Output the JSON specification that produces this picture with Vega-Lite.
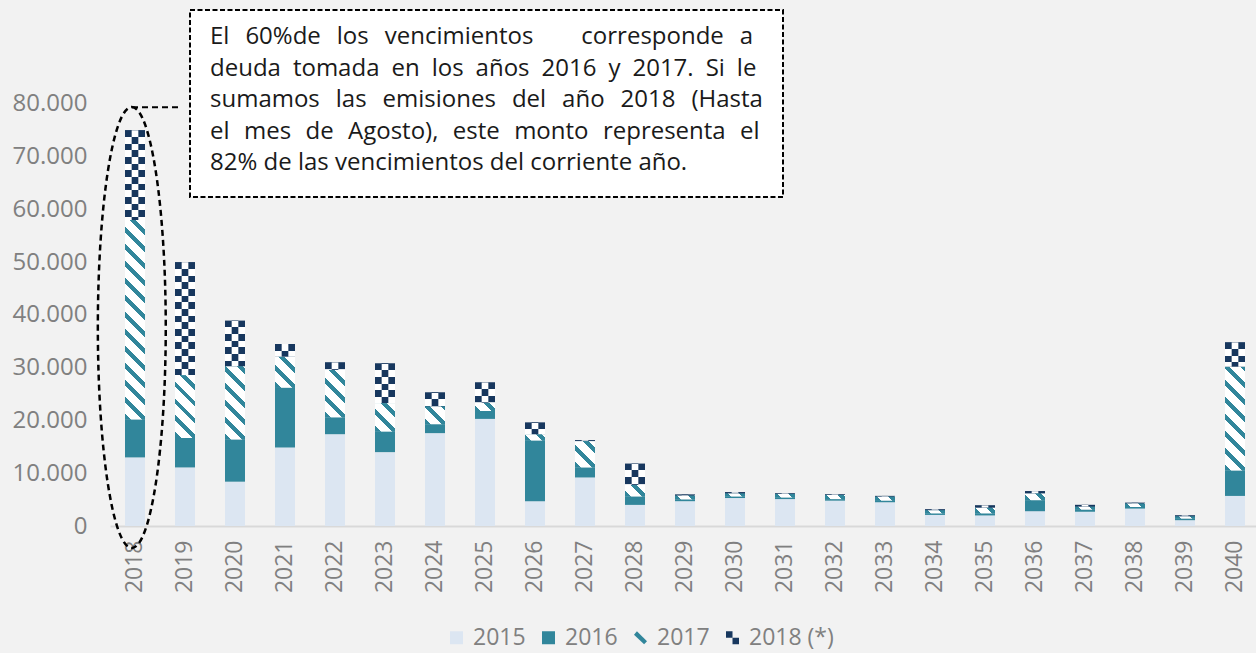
{
  "$schema": "https://vega.github.io/schema/vega-lite/v6.json",
  "width": 1146,
  "height": 526,
  "autosize": "none",
  "padding": {"left": 110, "top": 0, "right": 0, "bottom": 127},
  "background": "#f2f2f2",
  "config": {"view": {"stroke": null}, "font": "Open Sans"},
  "params": [
    {"name": "stripeStops", "value": [
      {"offset":0,"color":"#31869b"},{"offset":0.0175,"color":"#31869b"},{"offset":0.0175,"color":"#fff"},{"offset":0.05,"color":"#fff"},
      {"offset":0.05,"color":"#31869b"},{"offset":0.0675,"color":"#31869b"},{"offset":0.0675,"color":"#fff"},{"offset":0.1,"color":"#fff"},
      {"offset":0.1,"color":"#31869b"},{"offset":0.1175,"color":"#31869b"},{"offset":0.1175,"color":"#fff"},{"offset":0.15,"color":"#fff"},
      {"offset":0.15,"color":"#31869b"},{"offset":0.1675,"color":"#31869b"},{"offset":0.1675,"color":"#fff"},{"offset":0.2,"color":"#fff"},
      {"offset":0.2,"color":"#31869b"},{"offset":0.2175,"color":"#31869b"},{"offset":0.2175,"color":"#fff"},{"offset":0.25,"color":"#fff"},
      {"offset":0.25,"color":"#31869b"},{"offset":0.2675,"color":"#31869b"},{"offset":0.2675,"color":"#fff"},{"offset":0.3,"color":"#fff"},
      {"offset":0.3,"color":"#31869b"},{"offset":0.3175,"color":"#31869b"},{"offset":0.3175,"color":"#fff"},{"offset":0.35,"color":"#fff"},
      {"offset":0.35,"color":"#31869b"},{"offset":0.3675,"color":"#31869b"},{"offset":0.3675,"color":"#fff"},{"offset":0.4,"color":"#fff"},
      {"offset":0.4,"color":"#31869b"},{"offset":0.4175,"color":"#31869b"},{"offset":0.4175,"color":"#fff"},{"offset":0.45,"color":"#fff"},
      {"offset":0.45,"color":"#31869b"},{"offset":0.4675,"color":"#31869b"},{"offset":0.4675,"color":"#fff"},{"offset":0.5,"color":"#fff"},
      {"offset":0.5,"color":"#31869b"},{"offset":0.5175,"color":"#31869b"},{"offset":0.5175,"color":"#fff"},{"offset":0.55,"color":"#fff"},
      {"offset":0.55,"color":"#31869b"},{"offset":0.5675,"color":"#31869b"},{"offset":0.5675,"color":"#fff"},{"offset":0.6,"color":"#fff"},
      {"offset":0.6,"color":"#31869b"},{"offset":0.6175,"color":"#31869b"},{"offset":0.6175,"color":"#fff"},{"offset":0.65,"color":"#fff"},
      {"offset":0.65,"color":"#31869b"},{"offset":0.6675,"color":"#31869b"},{"offset":0.6675,"color":"#fff"},{"offset":0.7,"color":"#fff"},
      {"offset":0.7,"color":"#31869b"},{"offset":0.7175,"color":"#31869b"},{"offset":0.7175,"color":"#fff"},{"offset":0.75,"color":"#fff"},
      {"offset":0.75,"color":"#31869b"},{"offset":0.7675,"color":"#31869b"},{"offset":0.7675,"color":"#fff"},{"offset":0.8,"color":"#fff"},
      {"offset":0.8,"color":"#31869b"},{"offset":0.8175,"color":"#31869b"},{"offset":0.8175,"color":"#fff"},{"offset":0.85,"color":"#fff"},
      {"offset":0.85,"color":"#31869b"},{"offset":0.8675,"color":"#31869b"},{"offset":0.8675,"color":"#fff"},{"offset":0.9,"color":"#fff"},
      {"offset":0.9,"color":"#31869b"},{"offset":0.9175,"color":"#31869b"},{"offset":0.9175,"color":"#fff"},{"offset":0.95,"color":"#fff"},
      {"offset":0.95,"color":"#31869b"},{"offset":0.9675,"color":"#31869b"},{"offset":0.9675,"color":"#fff"},{"offset":1,"color":"#fff"}
    ]},
    {"name": "checkerStops", "value": [
      {"offset":0,"color":"#17375e"},{"offset":0.04167,"color":"#17375e"},{"offset":0.04167,"color":"#fff"},{"offset":0.08333,"color":"#fff"},
      {"offset":0.08333,"color":"#17375e"},{"offset":0.125,"color":"#17375e"},{"offset":0.125,"color":"#fff"},{"offset":0.16667,"color":"#fff"},
      {"offset":0.16667,"color":"#17375e"},{"offset":0.20833,"color":"#17375e"},{"offset":0.20833,"color":"#fff"},{"offset":0.25,"color":"#fff"},
      {"offset":0.25,"color":"#17375e"},{"offset":0.29167,"color":"#17375e"},{"offset":0.29167,"color":"#fff"},{"offset":0.33333,"color":"#fff"},
      {"offset":0.33333,"color":"#17375e"},{"offset":0.375,"color":"#17375e"},{"offset":0.375,"color":"#fff"},{"offset":0.41667,"color":"#fff"},
      {"offset":0.41667,"color":"#17375e"},{"offset":0.45833,"color":"#17375e"},{"offset":0.45833,"color":"#fff"},{"offset":0.5,"color":"#fff"},
      {"offset":0.5,"color":"#17375e"},{"offset":0.54167,"color":"#17375e"},{"offset":0.54167,"color":"#fff"},{"offset":0.58333,"color":"#fff"},
      {"offset":0.58333,"color":"#17375e"},{"offset":0.625,"color":"#17375e"},{"offset":0.625,"color":"#fff"},{"offset":0.66667,"color":"#fff"},
      {"offset":0.66667,"color":"#17375e"},{"offset":0.70833,"color":"#17375e"},{"offset":0.70833,"color":"#fff"},{"offset":0.75,"color":"#fff"},
      {"offset":0.75,"color":"#17375e"},{"offset":0.79167,"color":"#17375e"},{"offset":0.79167,"color":"#fff"},{"offset":0.83333,"color":"#fff"},
      {"offset":0.83333,"color":"#17375e"},{"offset":0.875,"color":"#17375e"},{"offset":0.875,"color":"#fff"},{"offset":0.91667,"color":"#fff"},
      {"offset":0.91667,"color":"#17375e"},{"offset":0.95833,"color":"#17375e"},{"offset":0.95833,"color":"#fff"},{"offset":1,"color":"#fff"}
    ]}
  ],
  "layer": [
    {
      "data": {"values": [
        {"anio":"2018","serie":"2015","v":13000},{"anio":"2018","serie":"2016","v":7200},{"anio":"2018","serie":"2017","v":37800},{"anio":"2018","serie":"2018 (*)","v":17000},
        {"anio":"2019","serie":"2015","v":11100},{"anio":"2019","serie":"2016","v":5600},{"anio":"2019","serie":"2017","v":11900},{"anio":"2019","serie":"2018 (*)","v":21400},
        {"anio":"2020","serie":"2015","v":8400},{"anio":"2020","serie":"2016","v":8000},{"anio":"2020","serie":"2017","v":13900},{"anio":"2020","serie":"2018 (*)","v":8600},
        {"anio":"2021","serie":"2015","v":14900},{"anio":"2021","serie":"2016","v":11300},{"anio":"2021","serie":"2017","v":5900},{"anio":"2021","serie":"2018 (*)","v":2400},
        {"anio":"2022","serie":"2015","v":17400},{"anio":"2022","serie":"2016","v":3200},{"anio":"2022","serie":"2017","v":9000},{"anio":"2022","serie":"2018 (*)","v":1400},
        {"anio":"2023","serie":"2015","v":14000},{"anio":"2023","serie":"2016","v":3900},{"anio":"2023","serie":"2017","v":5400},{"anio":"2023","serie":"2018 (*)","v":7500},
        {"anio":"2024","serie":"2015","v":17600},{"anio":"2024","serie":"2016","v":1700},{"anio":"2024","serie":"2017","v":3400},{"anio":"2024","serie":"2018 (*)","v":2600},
        {"anio":"2025","serie":"2015","v":20300},{"anio":"2025","serie":"2016","v":1500},{"anio":"2025","serie":"2017","v":1600},{"anio":"2025","serie":"2018 (*)","v":3800},
        {"anio":"2026","serie":"2015","v":4700},{"anio":"2026","serie":"2016","v":11500},{"anio":"2026","serie":"2017","v":1200},{"anio":"2026","serie":"2018 (*)","v":2200},
        {"anio":"2027","serie":"2015","v":9200},{"anio":"2027","serie":"2016","v":1900},{"anio":"2027","serie":"2017","v":5000},{"anio":"2027","serie":"2018 (*)","v":150},
        {"anio":"2028","serie":"2015","v":4000},{"anio":"2028","serie":"2016","v":1600},{"anio":"2028","serie":"2017","v":2200},{"anio":"2028","serie":"2018 (*)","v":4000},
        {"anio":"2029","serie":"2015","v":4700},{"anio":"2029","serie":"2016","v":350},{"anio":"2029","serie":"2017","v":750},{"anio":"2029","serie":"2018 (*)","v":150},
        {"anio":"2030","serie":"2015","v":5300},{"anio":"2030","serie":"2016","v":300},{"anio":"2030","serie":"2017","v":600},{"anio":"2030","serie":"2018 (*)","v":200},
        {"anio":"2031","serie":"2015","v":5100},{"anio":"2031","serie":"2016","v":300},{"anio":"2031","serie":"2017","v":700},{"anio":"2031","serie":"2018 (*)","v":100},
        {"anio":"2032","serie":"2015","v":4800},{"anio":"2032","serie":"2016","v":300},{"anio":"2032","serie":"2017","v":800},{"anio":"2032","serie":"2018 (*)","v":100},
        {"anio":"2033","serie":"2015","v":4500},{"anio":"2033","serie":"2016","v":300},{"anio":"2033","serie":"2017","v":800},{"anio":"2033","serie":"2018 (*)","v":100},
        {"anio":"2034","serie":"2015","v":2100},{"anio":"2034","serie":"2016","v":300},{"anio":"2034","serie":"2017","v":600},{"anio":"2034","serie":"2018 (*)","v":150},
        {"anio":"2035","serie":"2015","v":2000},{"anio":"2035","serie":"2016","v":400},{"anio":"2035","serie":"2017","v":1100},{"anio":"2035","serie":"2018 (*)","v":400},
        {"anio":"2036","serie":"2015","v":2800},{"anio":"2036","serie":"2016","v":2100},{"anio":"2036","serie":"2017","v":1300},{"anio":"2036","serie":"2018 (*)","v":400},
        {"anio":"2037","serie":"2015","v":2700},{"anio":"2037","serie":"2016","v":400},{"anio":"2037","serie":"2017","v":600},{"anio":"2037","serie":"2018 (*)","v":300},
        {"anio":"2038","serie":"2015","v":3300},{"anio":"2038","serie":"2016","v":300},{"anio":"2038","serie":"2017","v":700},{"anio":"2038","serie":"2018 (*)","v":100},
        {"anio":"2039","serie":"2015","v":1100},{"anio":"2039","serie":"2016","v":300},{"anio":"2039","serie":"2017","v":450},{"anio":"2039","serie":"2018 (*)","v":150},
        {"anio":"2040","serie":"2015","v":5700},{"anio":"2040","serie":"2016","v":4800},{"anio":"2040","serie":"2017","v":19700},{"anio":"2040","serie":"2018 (*)","v":4600}
      ]},
      "transform": [
        {"stack": "v", "groupby": ["anio"], "sort": [{"field": "serie", "order": "ascending"}], "as": ["v0", "v1"]}
      ],
      "layer": [
        {
          "mark": {"type": "bar", "width": 20},
          "encoding": {
            "x": {
              "field": "anio", "type": "ordinal", "title": null,
              "scale": {"domain": ["2018","2019","2020","2021","2022","2023","2024","2025","2026","2027","2028","2029","2030","2031","2032","2033","2034","2035","2036","2037","2038","2039","2040"], "range": [0, 1150], "paddingInner": 0, "paddingOuter": 0},
              "axis": {"title": null, "labelAngle": -90, "labelFontSize": 23, "labelColor": "#808080", "labelFont": "Open Sans", "labelPadding": 14, "ticks": false, "tickSize": 0, "domainColor": "#d9d9d9", "domainWidth": 2, "labelOverlap": false, "grid": false}
            },
            "y": {
              "field": "v1", "type": "quantitative", "title": null,
              "scale": {"domain": [0, 99700], "nice": false, "zero": true},
              "axis": {"title": null, "values": [0,10000,20000,30000,40000,50000,60000,70000,80000], "labelExpr": "replace(format(datum.value, ','), ',', '.')", "ticks": false, "tickSize": 0, "domain": false, "grid": false, "labelFontSize": 24, "labelColor": "#808080", "labelFont": "Open Sans", "labelPadding": 23}
            },
            "y2": {"field": "v0"},
            "color": {
              "field": "serie", "type": "nominal",
              "scale": {"domain": ["2015","2016","2017","2018 (*)"], "range": ["#dce6f2", "#31869b", "#31869b", "#17375e"]},
              "legend": {
                "title": null, "orient": "none", "legendX": 335, "legendY": 626, "direction": "horizontal",
                "symbolType": "square", "symbolSize": 169, "symbolStrokeWidth": 0,
                "labelFontSize": 23, "labelColor": "#808080", "labelFont": "Open Sans", "labelOffset": 5, "columnPadding": 11,
                "encode": {"symbols": {"update": {
                  "shape": [
                    {"test": "datum.value === '2018 (*)'", "value": "M-1,-1H0V0H-1ZM0,0H1V1H0Z"},
                    {"test": "datum.value === '2017'", "value": "M-1,-0.45L-0.55,-1L1,0.55L0.55,1Z"},
                    {"value": "square"}
                  ]
                }}}
              }
            }
          }
        },
        {
          "transform": [{"filter": "datum.serie === '2017'"}],
          "mark": {"type": "bar", "width": 20, "fill": {"expr": "{gradient: 'linear', x1: 0, y1: 1, x2: 6788 / (400 + pow((datum.v1 - datum.v0) * 0.0052758, 2)), y2: 1 - (datum.v1 - datum.v0) * 0.0052758 * 339.4 / (400 + pow((datum.v1 - datum.v0) * 0.0052758, 2)), stops: stripeStops}"}},
          "encoding": {
            "x": {"field": "anio", "type": "ordinal", "title": null},
            "y": {"field": "v1", "type": "quantitative", "title": null},
            "y2": {"field": "v0"}
          }
        },
        {
          "transform": [{"filter": "datum.serie === '2018 (*)'"}],
          "mark": {"type": "bar", "width": 20, "fill": {"expr": "{gradient: 'linear', x1: 0, y1: 0, x2: 0, y2: 160 / ((datum.v1 - datum.v0) * 0.0052758), stops: checkerStops}"}},
          "encoding": {
            "x": {"field": "anio", "type": "ordinal", "title": null},
            "y": {"field": "v1", "type": "quantitative", "title": null},
            "y2": {"field": "v0"}
          }
        },
        {
          "transform": [{"filter": "datum.serie === '2018 (*)'"}],
          "mark": {"type": "bar", "width": 6.667, "fill": {"expr": "{gradient: 'linear', x1: 0, y1: -6.667 / ((datum.v1 - datum.v0) * 0.0052758), x2: 0, y2: 153.333 / ((datum.v1 - datum.v0) * 0.0052758), stops: checkerStops}"}},
          "encoding": {
            "x": {"field": "anio", "type": "ordinal", "title": null},
            "y": {"field": "v1", "type": "quantitative", "title": null},
            "y2": {"field": "v0"}
          }
        }
      ]
    },
    {
      "data": {"values": [{}]},
      "mark": {"type": "rule", "color": "#000", "strokeWidth": 2, "strokeDash": [6, 4]},
      "encoding": {
        "x": {"datum": "2018", "type": "ordinal", "bandPosition": 0.44, "title": null},
        "x2": {"datum": "2019", "bandPosition": 0.36},
        "y": {"datum": 79360, "type": "quantitative", "title": null}
      }
    },
    {
      "data": {"values": [{}]},
      "mark": {"type": "point", "shape": "M0,-1C0.085,-1 0.154,-0.552 0.154,0C0.154,0.552 0.085,1 0,1C-0.085,1 -0.154,0.552 -0.154,0C-0.154,-0.552 -0.085,-1 0,-1Z", "size": 194481, "filled": false, "stroke": "#000", "strokeWidth": 2.5, "strokeDash": [6, 4], "opacity": 1},
      "encoding": {
        "x": {"datum": "2018", "type": "ordinal", "bandPosition": 0.436, "title": null},
        "y": {"datum": 37620, "type": "quantitative", "title": null}
      }
    },
    {
      "data": {"values": [{}]},
      "mark": {"type": "rect", "fill": "#ffffff", "stroke": "#000", "strokeWidth": 2, "strokeDash": [5, 2.5]},
      "encoding": {
        "x": {"datum": "2019", "type": "ordinal", "bandPosition": 0.6, "title": null},
        "x2": {"datum": "2031", "bandPosition": 0.46},
        "y": {"datum": 97800, "type": "quantitative", "title": null},
        "y2": {"datum": 62360}
      }
    },
    {
      "data": {"values": [{}]},
      "mark": {"type": "text", "align": "left", "baseline": "alphabetic", "font": "Open Sans", "fontSize": 24, "lineHeight": 31.5, "color": "#1a1a1a",
        "text": [
          "El\u2002\u200960%de\u2002\u2009los\u2002\u2009vencimientos\u2003\u2003corresponde\u2002\u2009a",
          "deuda\u2002tomada\u2002en\u2002los\u2002años\u20022016\u2002y\u20022017.\u2002Si\u2002le",
          "sumamos\u2002\u2009las\u2002\u2009emisiones\u2002\u2009del\u2002\u2009año\u2002\u20092018\u2002\u2009(Hasta",
          "el\u2002\u200ames\u2002\u200ade\u2002\u200aAgosto),\u2002\u200aeste\u2002\u200amonto\u2002\u200arepresenta\u2002\u200ael",
          "82% de las vencimientos del corriente año."
        ]},
      "encoding": {
        "x": {"datum": "2019", "type": "ordinal", "bandPosition": 1, "title": null},
        "y": {"datum": 91360, "type": "quantitative", "title": null}
      }
    }
  ]
}
